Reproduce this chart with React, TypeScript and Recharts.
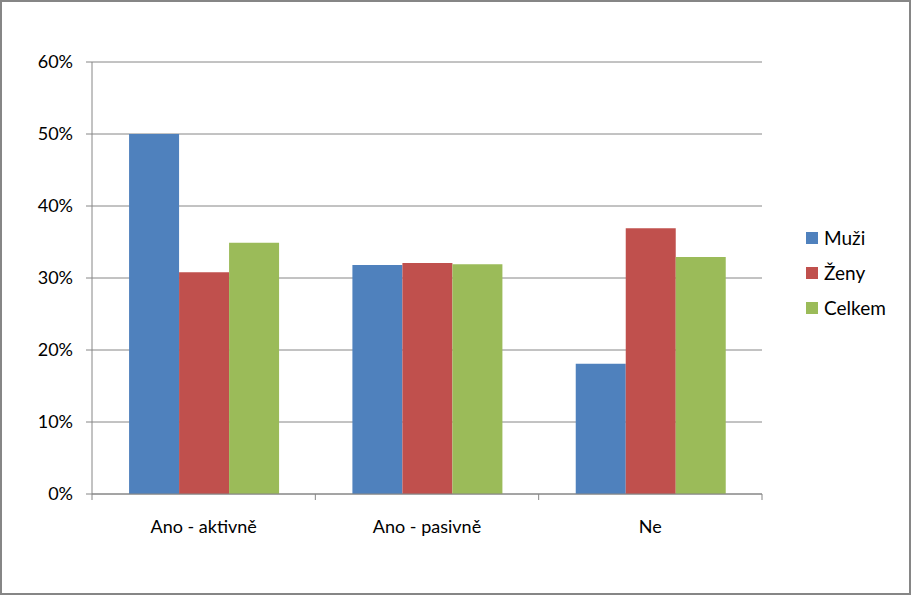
import React from "react";
import { BarChart, Bar, XAxis, YAxis, CartesianGrid } from "recharts";

const categories = ["Ano - aktivně", "Ano - pasivně", "Ne"];
const muzi = [50, 31.8, 18.1];
const zeny = [30.8, 32.1, 36.9];
const celkem = [34.9, 31.9, 32.9];
const yTicks = [0, 10, 20, 30, 40, 50, 60];

const series = [
  { key: "muzi", name: "Muži", color: "#4F81BD" },
  { key: "zeny", name: "Ženy", color: "#C0504D" },
  { key: "celkem", name: "Celkem", color: "#9BBB59" },
];

const data = categories.map((c, i) => ({
  name: c,
  muzi: muzi[i],
  zeny: zeny[i],
  celkem: celkem[i],
}));

const W = 911;
const H = 595;
const xAxisHeight = 30;
const margin = { top: 62, right: 149, bottom: 101 - xAxisHeight, left: 0 };
const yAxisWidth = 92;
const font = "Lato, 'Noto Sans', sans-serif";
const grey = "#868686";

// half of one category band, used for the boundary tick marks
const halfBand = (W - margin.right - yAxisWidth) / categories.length / 2;

const XTick = (props: any) => {
  const { x, y, payload, index } = props;
  const last = index === categories.length - 1;
  return (
    <g>
      <line x1={x - halfBand} x2={x - halfBand} y1={y} y2={y + 6} stroke={grey} />
      {last && <line x1={x + halfBand} x2={x + halfBand} y1={y} y2={y + 6} stroke={grey} />}
      <text x={x} y={y + 39} textAnchor="middle" fontSize={18} fill="#000" fontFamily={font}>
        {payload.value}
      </text>
    </g>
  );
};

export default function App() {
  return (
    <div
      style={{
        position: "absolute",
        left: 0,
        top: 0,
        width: W,
        height: H,
        border: `2px solid ${grey}`,
        boxSizing: "border-box",
        background: "#fff",
      }}
    >
      <div style={{ position: "absolute", left: -2, top: -2 }}>
        <BarChart width={W} height={H} data={data} margin={margin} barCategoryGap="16.6%" barGap={0}>
          <CartesianGrid vertical={false} stroke={grey} strokeWidth={1} />
          <XAxis
            dataKey="name"
            height={xAxisHeight}
            axisLine={{ stroke: grey }}
            tickLine={false}
            tickSize={0}
            tickMargin={0}
            tick={<XTick />}
            interval={0}
          />
          <YAxis
            width={yAxisWidth}
            domain={[0, 60]}
            ticks={yTicks}
            interval={0}
            tickFormatter={(v) => `${v}%`}
            axisLine={{ stroke: grey }}
            tickLine={{ stroke: grey }}
            tickSize={6}
            tickMargin={13}
            tick={{ fill: "#000", fontSize: 18, fontFamily: font }}
          />
          {series.map((s) => (
            <Bar key={s.key} dataKey={s.key} name={s.name} fill={s.color} isAnimationActive={false} />
          ))}
        </BarChart>
      </div>
      <div
        style={{
          position: "absolute",
          left: 804,
          top: 218,
          fontFamily: font,
          fontSize: 19,
          color: "#000",
        }}
      >
        {series.map((s) => (
          <div key={s.key} style={{ display: "flex", alignItems: "center", height: 35 }}>
            <span style={{ width: 12, height: 12, background: s.color, marginRight: 6, display: "inline-block" }} />
            {s.name}
          </div>
        ))}
      </div>
    </div>
  );
}
